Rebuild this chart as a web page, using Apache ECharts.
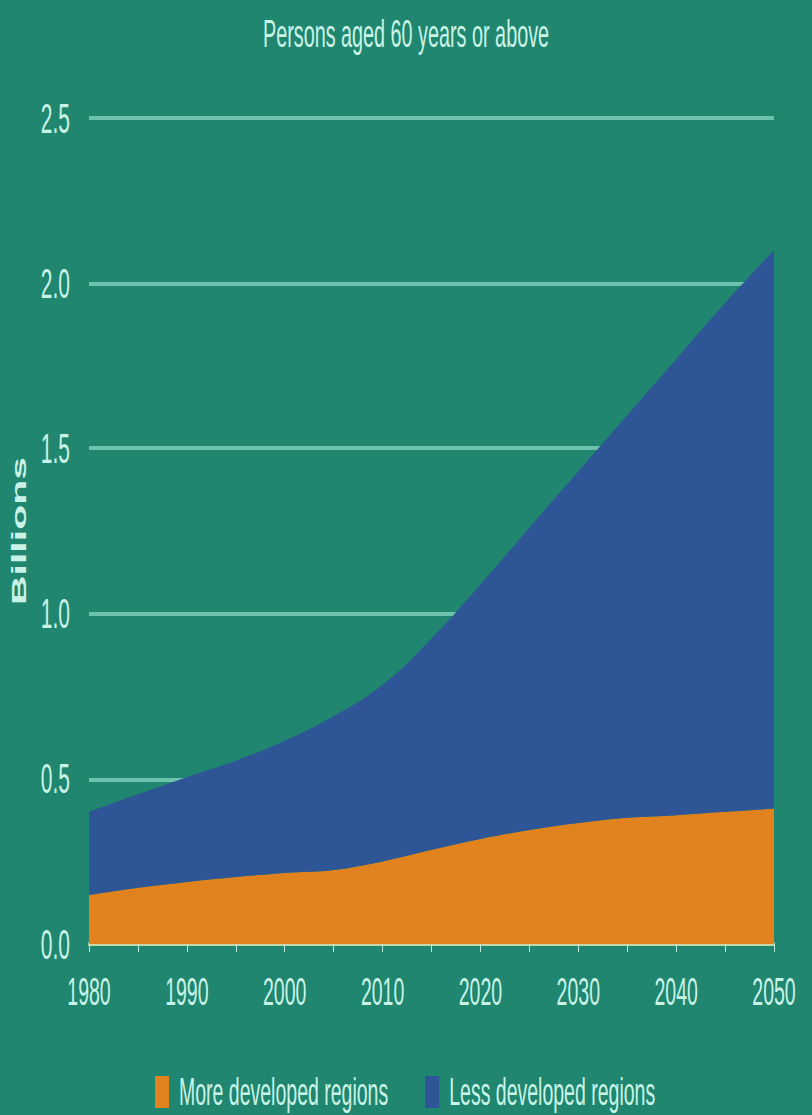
<!DOCTYPE html>
<html>
<head>
<meta charset="utf-8">
<script src="https://cdn.jsdelivr.net/npm/echarts/dist/echarts.min.js"></script>
<style>
  html, body { margin: 0; padding: 0; background: #20866f; overflow: hidden; }
  #wrap { width: 812px; height: 1115px; overflow: hidden; background: #20866f; }
  #chart { width: 812px; height: 557.5px; transform: scaleY(2); transform-origin: 0 0; }
</style>
</head>
<body>
<div id="wrap"><div id="chart"></div></div>
<script>
const years = ['1980', '1985', '1990', '1995', '2000', '2005', '2010', '2015', '2020', '2025', '2030', '2035', '2040', '2045', '2050'];
const moreDeveloped = [0.148, 0.17, 0.188, 0.203, 0.215, 0.224, 0.25, 0.285, 0.318, 0.345, 0.366, 0.382, 0.39, 0.40, 0.41];
const lessDeveloped = [0.252, 0.283, 0.317, 0.352, 0.40, 0.466, 0.535, 0.64, 0.77, 0.915, 1.064, 1.218, 1.38, 1.54, 1.69];
const yTicks = [0, 0.5, 1.0, 1.5, 2.0, 2.5];
const seriesNames = ['More developed regions', 'Less developed regions'];
const titleText = 'Persons aged 60 years or above';
const yName = 'Billions';

const txt = '#c9f3e6';
const font = 'Liberation Sans, Arial, sans-serif';
const chart = echarts.init(document.getElementById('chart'), null, { renderer: 'svg' });
chart.setOption({
  backgroundColor: '#20866f',
  animation: false,
  title: {
    text: titleText, left: 'center', top: 2,
    textStyle: { color: txt, fontSize: 19.8, fontWeight: 'normal', fontFamily: font }
  },
  legend: {
    left: 150, top: 531, itemWidth: 14, itemHeight: 16, itemGap: 37, icon: 'rect',
    textStyle: { color: txt, fontSize: 19.5, fontFamily: font, padding: [0, 0, 0, 5] },
    data: seriesNames
  },
  grid: { left: 89, right: 38, top: 59, bottom: 86 },
  xAxis: {
    type: 'category', data: years, boundaryGap: false,
    axisLine: { show: true, lineStyle: { color: '#c4d8a4', width: 2 } },
    axisTick: { show: true, length: 4, interval: 0, lineStyle: { color: '#b9e8da', width: 1 } },
    splitLine: { show: false },
    axisLabel: { color: txt, fontSize: 19.5, margin: 14, fontFamily: font, interval: 1 }
  },
  yAxis: {
    type: 'value', min: yTicks[0], max: yTicks[yTicks.length - 1], interval: 0.5,
    name: yName, nameLocation: 'middle', nameRotate: 90, nameGap: 43,
    nameTextStyle: { color: txt, fontSize: 20.5, fontWeight: 'bold', fontFamily: font },
    axisLine: { show: false }, axisTick: { show: false },
    splitLine: { show: true, lineStyle: { color: '#6bc3ad', width: 2 } },
    axisLabel: { color: txt, fontSize: 21, margin: 19, fontFamily: font, formatter: v => v.toFixed(1) }
  },
  series: [
    {
      name: seriesNames[0], type: 'line', stack: 'total', smooth: 0.35, symbol: 'none',
      lineStyle: { width: 0 }, itemStyle: { color: '#e0821e' },
      areaStyle: { color: '#e0821e', opacity: 1 },
      data: moreDeveloped
    },
    {
      name: seriesNames[1], type: 'line', stack: 'total', smooth: 0.45, symbol: 'none',
      lineStyle: { width: 0 }, itemStyle: { color: '#2e5596' },
      areaStyle: { color: '#2e5596', opacity: 1 },
      data: lessDeveloped
    }
  ]
});
</script>
</body>
</html>
